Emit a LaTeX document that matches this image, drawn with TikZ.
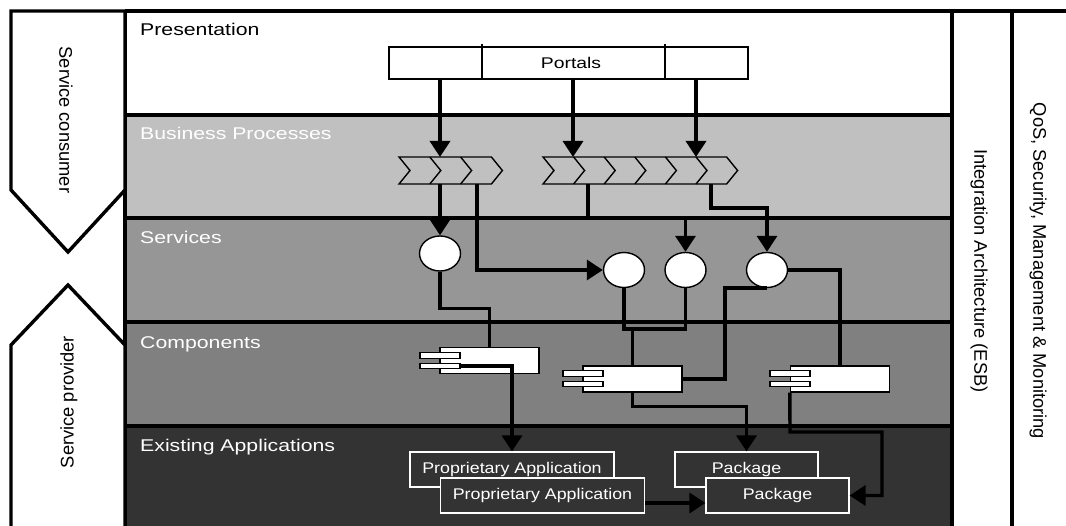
\documentclass[tikz,border=0pt]{standalone}
\usepackage{fontspec}
\setmainfont{Liberation Sans}
\newfontfamily\layerfont[FakeStretch=1.25]{Liberation Sans}
\newfontfamily\appfont[FakeStretch=1.15]{Liberation Sans}
\usetikzlibrary{arrows.meta,shapes.geometric}

\definecolor{bpgray}{HTML}{C0C0C0}
\definecolor{svgray}{HTML}{969696}
\definecolor{cpgray}{HTML}{808080}
\definecolor{eagray}{HTML}{333333}

\begin{document}
\begin{tikzpicture}[x=1pt,y=-1pt,
  heavy/.style={line width=3.4pt},
  conn/.style={line width=3.4pt},
  arr/.style={line width=3.4pt,-{Triangle[length=16pt,width=20pt]}},
  chev/.style={line width=1.4pt,line join=miter},
  layerlbl/.style={anchor=base west,inner sep=0pt,font=\layerfont\fontsize{17}{20}\selectfont},
  sidelbl/.style={inner sep=0pt,font=\fontsize{18.3}{21}\selectfont},
  svc/.style={ellipse,draw,fill=white,line width=1.4pt,minimum width=41pt,minimum height=35pt,inner sep=0pt},
  comp/.style={rectangle,draw,fill=white,line width=1.4pt,minimum width=99pt,minimum height=26pt,inner sep=0pt},
  port/.style={rectangle,draw,fill=white,line width=1.4pt,minimum width=40pt,minimum height=5.5pt,inner sep=0pt},
  app/.style={rectangle,draw=white,fill=eagray,line width=1.2pt,minimum width=204pt,minimum height=35pt,inner sep=0pt,text=white,font=\appfont\fontsize{15.5}{18}\selectfont},
  pkg/.style={app,minimum width=143pt}]

\useasboundingbox (0,0) rectangle (1066,526);
\fill[white] (0,0) rectangle (1066,526);

% layer bands
\fill[bpgray] (125,115) rectangle (952,218);
\fill[svgray] (125,218) rectangle (952,322);
\fill[cpgray] (125,322) rectangle (952,426);
\fill[eagray] (125,426) rectangle (952,527);
\foreach \yy in {115,218,322,426} \draw[heavy] (125,\yy) -- (952,\yy);

% frame and side columns
\draw[heavy] (125,11) -- (1067,11);
\draw[heavy] (125,11) -- (125,527);
\draw[heavy] (952,11) -- (952,527);
\draw[heavy] (1012,11) -- (1012,527);

% consumer / provider arrows
\draw[heavy,fill=white,line join=miter] (11,11) -- (125,11) -- (125,190) -- (68,252) -- (11,190) -- cycle;
\draw[heavy,fill=white,line join=miter] (11,530) -- (11,345) -- (68,285) -- (125,345) -- (125,530);
\node[sidelbl,rotate=-90] (consumer) at (66,120) {Service consumer};
\node[sidelbl,rotate=90] (provider) at (69,402) {Service provider};
\node[sidelbl,rotate=-90] (esb) at (979,271) {Integration Architecture (ESB)};
\node[sidelbl,rotate=-90] (qos) at (1038,271) {QoS, Security, Management \& Monitoring};

% layer labels
\node[layerlbl] (lpres) at (140,36) {Presentation};
\node[layerlbl,text=white] (lbp) at (140,140) {Business Processes};
\node[layerlbl,text=white] (lsvc) at (140,244) {Services};
\node[layerlbl,text=white] (lcomp) at (140,349) {Components};
\node[layerlbl,text=white] (lapp) at (140,452) {Existing Applications};

% portals
\node[rectangle,draw,fill=white,line width=1.2pt,minimum width=359pt,minimum height=32pt,inner sep=0pt] (portals) at (568.5,63) {};
\draw[line width=1.2pt] (482,44) -- (482,79);
\draw[line width=1.2pt] (665,44) -- (665,79);
\node[font=\layerfont\fontsize{15.5}{18}\selectfont,inner sep=0pt] (portalsText) at (571,63) {Portals};

% process chains
\draw[chev] (399,157) -- (491.4,157) -- (502.4,170.5) -- (491.4,184) -- (399,184) -- (410,170.5) -- cycle;
\foreach \i in {1,2} \draw[chev] (399+\i*30.8,157) -- (410+\i*30.8,170.5) -- (399+\i*30.8,184);
\draw[chev] (543,157) -- (726.6,157) -- (737.6,170.5) -- (726.6,184) -- (543,184) -- (554,170.5) -- cycle;
\foreach \i in {1,...,5} \draw[chev] (543+\i*30.6,157) -- (554+\i*30.6,170.5) -- (543+\i*30.6,184);
\coordinate (chA1) at (440,157);
\coordinate (chB1) at (573,157);
\coordinate (chB2) at (696,157);
\coordinate (chAo1) at (440,184);
\coordinate (chAo2) at (477,184);
\coordinate (chBo1) at (588,184);
\coordinate (chBo2) at (711,184);

% services
\node[svc] (c1) at (440,253.5) {};
\node[svc] (c2) at (624,270) {};
\node[svc] (c3) at (685.5,270) {};
\node[svc] (c4) at (767,270) {};

% components
\node[comp] (comp1) at (489.5,360.5) {};
\node[port] (p11) at (440,355.5) {};
\node[port] (p12) at (440,366) {};
\node[comp] (comp2) at (632.5,379) {};
\node[port] (p21) at (583,373.5) {};
\node[port] (p22) at (583,384) {};
\node[comp] (comp3) at (840,379) {};
\node[port] (p31) at (790,373.5) {};
\node[port] (p32) at (790,384) {};

% existing applications
\node[app] (pa1) at (512,469.5) {Proprietary Application};
\node[app] (pa2) at (542.5,495.5) {Proprietary Application};
\node[pkg] (pk1) at (746.5,469.5) {Package};
\node[pkg] (pk2) at (777.5,495.5) {Package};

% connectors
\draw[arr] (portals.south -| chA1) -- (chA1);
\draw[arr] (portals.south -| chB1) -- (chB1);
\draw[arr] (portals.south -| chB2) -- (chB2);
\draw[arr] (chAo1) -- (c1.north);
\draw[arr] (chAo2) |- (c2.west);
\draw[arr] (chBo1) -- (588,218) -| (c3.north);
\draw[arr] (chBo2) -- (711,208) -| (c4.north);
\draw[conn] (c1.south) -- ++(0,37) -| (comp1.north);
\draw[conn] (c2.south) -- ++(0,41) -| (c3.south);
\draw[conn] (comp2.north) -- ++(0,-38);
\draw[conn] (c4.east) -| (comp3.north);
\draw[conn] (comp2.east) -- (725,379) |- (c4.south);
\draw[arr] (p12.east) -| (pa1.north);
\draw[arr] (comp2.south) -- ++(0,14) -| (pk1.north);
\draw[arr] (comp3.south west) -- (790,432) -- (882,432) |- (pk2.east);
\draw[arr] ([yshift=-7.5pt]pa2.east) -- ([yshift=-7.5pt]pk2.west);
\end{tikzpicture}
\end{document}
